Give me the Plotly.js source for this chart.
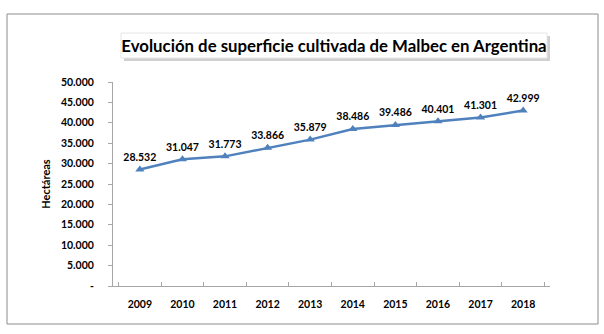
<!DOCTYPE html>
<html>
<head>
<meta charset="utf-8">
<script src="https://cdn.plot.ly/plotly-3.0.1.min.js"></script>
<style>html,body{margin:0;padding:0;background:#fff;}#chart{width:604px;height:334px;}</style>
</head>
<body>
<div id="chart"></div>
<script>
const years = ['2009','2010','2011','2012','2013','2014','2015','2016','2017','2018'];
const hectares = [28532, 31047, 31773, 33866, 35879, 38486, 39486, 40401, 41301, 42999];
const yTickVals = [0, 5000, 10000, 15000, 20000, 25000, 30000, 35000, 40000, 45000, 50000];
const yTickText = ['-', '5.000', '10.000', '15.000', '20.000', '25.000', '30.000', '35.000', '40.000', '45.000', '50.000'];

const fmt = v => String(v).replace(/\B(?=(\d{3})+(?!\d))/g, '.');
const FONT = 'Lato, "Open Sans", sans-serif';

const trace = {
  x: years,
  y: hectares,
  type: 'scatter',
  mode: 'lines+markers+text',
  text: hectares.map(fmt),
  textposition: 'top center',
  textfont: {family: FONT, size: 10.5, color: '#000', weight: 'bold'},
  line: {color: '#4F81BD', width: 2.5},
  marker: {symbol: 'triangle-up', size: 8, color: '#4F81BD'},
  cliponaxis: false,
  hoverinfo: 'x+y'
};

const layout = {
  width: 604, height: 334,
  margin: {l: 113, r: 54, t: 82, b: 48},
  paper_bgcolor: '#fff', plot_bgcolor: '#fff',
  showlegend: false,
  font: {family: FONT, color: '#000'},
  title: {
    text: 'Evolución de superficie cultivada de Malbec en Argentina',
    font: {family: FONT, size: 16.8, color: '#000', weight: 'bold'},
    x: 334 / 604, xref: 'container', xanchor: 'center',
    y: 1 - 46 / 334, yref: 'container', yanchor: 'middle'
  },
  xaxis: {
    type: 'category',
    showgrid: false, zeroline: false,
    showline: true, linecolor: '#A6A6A6', linewidth: 1,
    ticks: 'inside', tickson: 'boundaries', ticklen: 4, tickcolor: '#A6A6A6',
    tickfont: {family: FONT, size: 10.5, color: '#000', weight: 'bold'},
    ticklabelstandoff: 8
  },
  yaxis: {
    range: [0, 50000],
    tickvals: yTickVals, ticktext: yTickText,
    showgrid: false, zeroline: false,
    showline: true, linecolor: '#A6A6A6', linewidth: 1,
    ticks: 'outside', ticklen: 4, tickcolor: '#A6A6A6',
    tickfont: {family: FONT, size: 10.5, color: '#000', weight: 'bold'},
    ticklabelstandoff: 12,
    title: {text: 'Hectáreas', font: {family: FONT, size: 11, color: '#000', weight: 'bold'}, standoff: 8}
  },
  shapes: [
    {type: 'rect', xref: 'paper', yref: 'paper', x0: -106/437, x1: 485/437, y0: (286-324)/204, y1: (286-14)/204,
     line: {color: '#8C8C8C', width: 1}, fillcolor: 'rgba(0,0,0,0)', layer: 'below'},
    {type: 'rect', xref: 'paper', yref: 'paper', x0: (124-113)/437, x1: (550-113)/437, y0: (286-61)/204, y1: (286-36)/204,
     line: {width: 0}, fillcolor: '#D0D0D0', layer: 'below'},
    {type: 'rect', xref: 'paper', yref: 'paper', x0: (121-113)/437, x1: (547-113)/437, y0: (286-58)/204, y1: (286-33)/204,
     line: {color: '#E6E6E6', width: 1}, fillcolor: '#fff', layer: 'below'}
  ]
};

Plotly.newPlot('chart', [trace], layout, {displayModeBar: false, staticPlot: true});
</script>
</body>
</html>
